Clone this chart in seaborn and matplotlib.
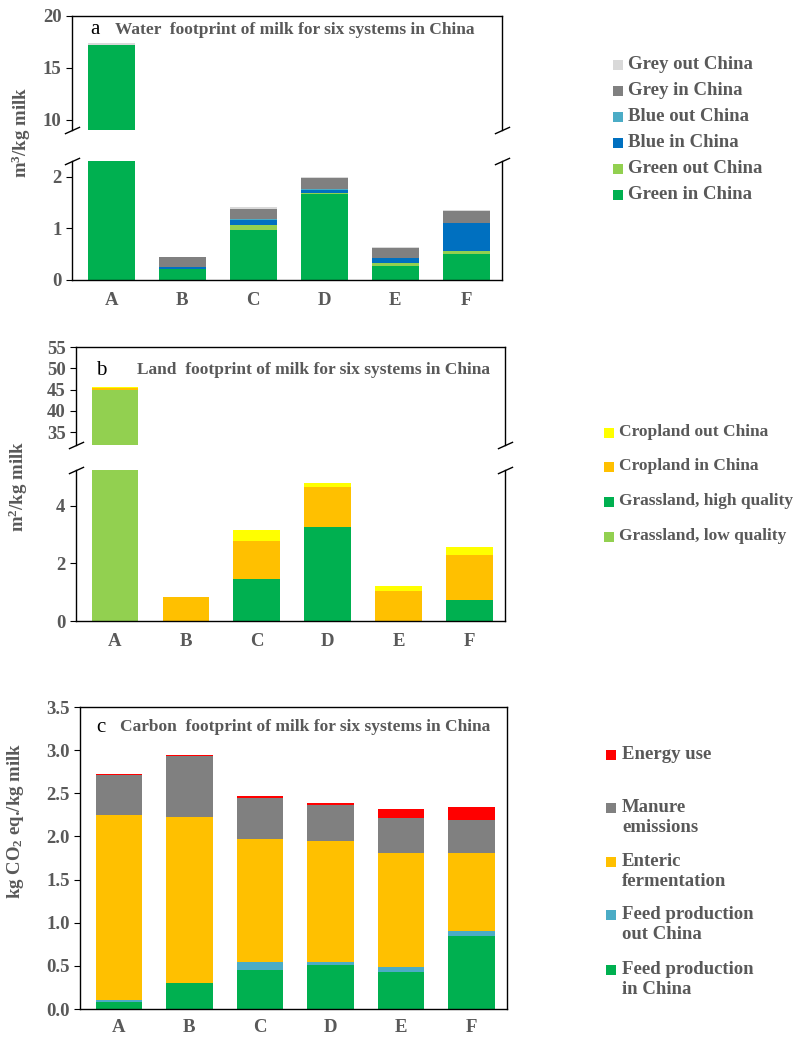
import matplotlib
matplotlib.use("Agg")
import matplotlib.pyplot as plt
from matplotlib.patches import Rectangle
import seaborn as sns
import pandas as pd

sns.set_style("ticks")
plt.rcParams['font.family'] = ['Liberation Serif', 'DejaVu Serif']
plt.rcParams['font.weight'] = 'bold'
plt.rcParams['mathtext.fontset'] = 'custom'
plt.rcParams['mathtext.rm'] = 'Liberation Serif:bold'
plt.rcParams['mathtext.default'] = 'rm'

GREY_TXT = '#595959'

systems = ['A', 'B', 'C', 'D', 'E', 'F']

# water footprint, m3/kg milk
water_layers = ['Green in China', 'Green out China', 'Blue in China',
                'Blue out China', 'Grey in China', 'Grey out China']
water_colors = ['#00B050', '#92D050', '#0070C0', '#4BACC6', '#808080', '#D9D9D9']
green_in = [17.2, 0.21, 0.96, 1.66, 0.28, 0.51]
green_out = [0.0, 0.0, 0.11, 0.02, 0.04, 0.06]
blue_in = [0.0, 0.05, 0.09, 0.06, 0.10, 0.53]
blue_out = [0.0, 0.0, 0.01, 0.01, 0.01, 0.01]
grey_in = [0.03, 0.18, 0.21, 0.22, 0.19, 0.22]
grey_out = [0.12, 0.01, 0.03, 0.03, 0.02, 0.03]

# land footprint, m2/kg milk
land_layers = ['Grassland, low quality', 'Grassland, high quality',
               'Cropland in China', 'Cropland out China']
land_colors = ['#92D050', '#00B050', '#FFC000', '#FFFF00']
grass_low = [44.8, 0.0, 0.0, 0.0, 0.0, 0.0]
grass_high = [0.0, 0.0, 1.47, 3.27, 0.0, 0.73]
crop_in = [0.5, 0.82, 1.32, 1.39, 1.04, 1.56]
crop_out = [0.35, 0.02, 0.37, 0.12, 0.18, 0.27]

# carbon footprint, kg CO2 eq./kg milk
carbon_layers = ['Feed production\nin China', 'Feed production\nout China',
                 'Enteric\nfermentation', 'Manure\nemissions', 'Energy use']
carbon_colors = ['#00B050', '#4BACC6', '#FFC000', '#808080', '#FF0000']
feed_in = [0.085, 0.305, 0.45, 0.51, 0.43, 0.85]
feed_out = [0.025, 0.0, 0.10, 0.03, 0.055, 0.055]
enteric = [2.14, 1.925, 1.42, 1.405, 1.325, 0.905]
manure = [0.46, 0.70, 0.47, 0.415, 0.40, 0.38]
energy = [0.01, 0.01, 0.03, 0.03, 0.11, 0.15]

water_df = pd.DataFrame(dict(zip(water_layers, [green_in, green_out, blue_in, blue_out, grey_in, grey_out])))
land_df = pd.DataFrame(dict(zip(land_layers, [grass_low, grass_high, crop_in, crop_out])))
carbon_df = pd.DataFrame(dict(zip(carbon_layers, [feed_in, feed_out, enteric, manure, energy])))

W, H = 800, 1040
fig = plt.figure(figsize=(W / 100, H / 100), dpi=100)


def add_ax(x0, x1, y0, y1):
    # pixel box (top-left origin) -> figure axes
    return fig.add_axes([x0 / W, 1 - y1 / H, (x1 - x0) / W, (y1 - y0) / H])


def stacked(ax, df, layers, colors):
    cum = df[layers].cumsum(axis=1)
    cum['system'] = systems
    for layer, c in reversed(list(zip(layers, colors))):
        sns.barplot(data=cum, x='system', y=layer, color=c, saturation=1,
                    width=0.66, linewidth=0, ax=ax)
    ax.set_xlabel('')
    ax.set_ylabel('')
    ax.set_xlim(-0.55, 5.5)


def style_ax(ax):
    for s in ax.spines.values():
        s.set_color('black')
        s.set_linewidth(1)
    ax.tick_params(axis='y', labelsize=13.5, labelcolor=GREY_TXT, length=4, color='black')
    for lab in ax.get_yticklabels():
        lab.set_fontweight('bold')


def xlabels(ax, pad):
    ax.tick_params(axis='x', length=0, labelsize=13.5, labelcolor=GREY_TXT, pad=pad)
    for lab in ax.get_xticklabels():
        lab.set_fontweight('bold')


def break_marks(ax, y):
    ax.plot([0, 1], [y, y], transform=ax.transAxes, marker=[(-1, -0.45), (1, 0.45)],
            markersize=11, linestyle='none', color='black', mec='black', mew=1, clip_on=False)


def broken_panel(upper_box, lower_box, df, layers, colors, up_lim, up_ticks, lo_lim, lo_ticks):
    ax_u = add_ax(*upper_box)
    ax_l = add_ax(*lower_box)
    for ax in (ax_u, ax_l):
        stacked(ax, df, layers, colors)
        style_ax(ax)
    ax_u.set_ylim(*up_lim)
    ax_u.set_yticks(up_ticks)
    ax_u.spines['bottom'].set_visible(False)
    ax_u.tick_params(axis='x', bottom=False, labelbottom=False)
    ax_l.set_ylim(*lo_lim)
    ax_l.set_yticks(lo_ticks)
    ax_l.spines['top'].set_visible(False)
    xlabels(ax_l, 9)
    break_marks(ax_u, 0)
    break_marks(ax_l, 1)
    return ax_u, ax_l


def legend(x_box, x_txt, ys, labels, colors, size=13.5):
    for y, lab, c in zip(ys, labels, colors):
        fig.patches.append(Rectangle((x_box / W, 1 - (y + 5) / H), 10 / W, 10 / H,
                                     facecolor=c, edgecolor='none', transform=fig.transFigure))
        fig.text(x_txt / W, 1 - (y - 9) / H, lab, fontsize=size, fontweight='bold',
                 color=GREY_TXT, va='top', ha='left', linespacing=1.25)


def title(letter, x_l, x_t, y, text):
    fig.text(x_l / W, 1 - y / H, letter, fontsize=15, fontweight='normal', color='black', va='center')
    fig.text(x_t / W, 1 - y / H, text, fontsize=12.5, fontweight='bold', color=GREY_TXT, va='center')


# panel a
broken_panel((72, 502, 16, 130), (72, 502, 161, 280), water_df, water_layers, water_colors,
             (9, 20), [10, 15, 20], (0, 2.3), [0, 1, 2])
title('a', 90, 115, 30, 'Water  footprint of milk for six systems in China')
fig.text(21 / W, 1 - 133 / H, 'm$^3$/kg milk', rotation=90, fontsize=13.5, fontweight='bold',
         color=GREY_TXT, ha='center', va='center')
legend(613, 628, [65, 91, 117, 143, 169, 195], water_layers[::-1], water_colors[::-1])

# panel b
broken_panel((76, 505, 347, 445), (76, 505, 470, 621), land_df, land_layers, land_colors,
             (32, 55), [35, 40, 45, 50, 55], (0, 5.24), [0, 2, 4])
title('b', 96, 137, 370, 'Land  footprint of milk for six systems in China')
fig.text(18 / W, 1 - 487 / H, 'm$^2$/kg milk', rotation=90, fontsize=13.5, fontweight='bold',
         color=GREY_TXT, ha='center', va='center')
legend(604, 619, [433, 467, 502, 537], land_layers[::-1], land_colors[::-1], size=12.5)

# panel c
ax_c = add_ax(80, 507, 707, 1009)
stacked(ax_c, carbon_df, carbon_layers, carbon_colors)
style_ax(ax_c)
ax_c.set_ylim(0, 3.5)
ax_c.set_yticks([0, 0.5, 1.0, 1.5, 2.0, 2.5, 3.0, 3.5])
ax_c.set_yticklabels([f'{v:.1f}' for v in ax_c.get_yticks()], fontweight='bold')
xlabels(ax_c, 7)
title('c', 96, 120, 727, 'Carbon  footprint of milk for six systems in China')
fig.text(16 / W, 1 - 821 / H, 'kg CO$_2$ eq./kg milk', rotation=90, fontsize=13.5, fontweight='bold',
         color=GREY_TXT, ha='center', va='center')
legend(606, 622, [755, 808, 862, 915, 970], carbon_layers[::-1], carbon_colors[::-1])

fig.savefig('out.png', dpi=100)
